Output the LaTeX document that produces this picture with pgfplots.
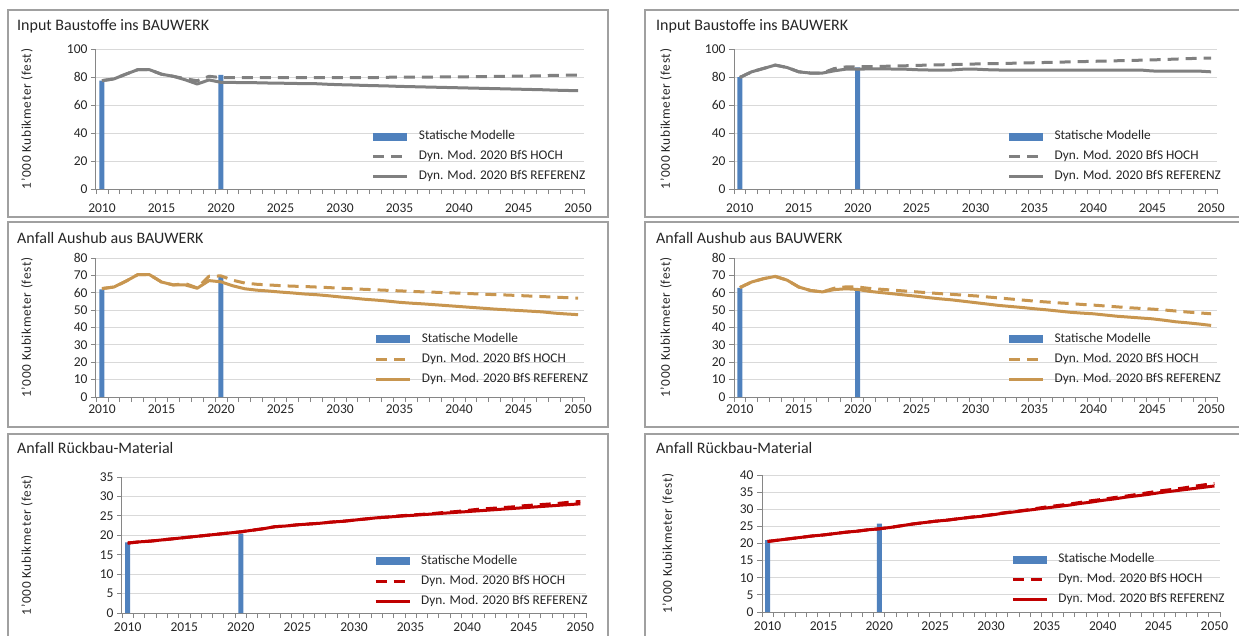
\documentclass[border=0pt]{standalone}
\usepackage{fontspec}
\setmainfont{Carlito}
\usepackage{pgfplots}
\pgfplotsset{compat=1.18}
\usepackage{pgfplotstable}

\definecolor{barblue}{HTML}{4F81BD}
\definecolor{linegray}{HTML}{808080}
\definecolor{linetan}{HTML}{C89650}
\definecolor{linered}{HTML}{C00000}
\definecolor{gridcol}{HTML}{D9D9D9}
\definecolor{axiscol}{HTML}{868686}
\definecolor{framecol}{HTML}{A0A0A0}
\definecolor{txt}{HTML}{262626}

% year  ref  hoch
\pgfplotstableread{
year ref hoch
2010 77.4 77.4
2011 78.6 78.6
2012 82.0 82.0
2013 85.2 85.2
2014 85.2 85.2
2015 82.0 82.0
2016 80.5 80.5
2017 78.0 78.8
2018 75.0 77.3
2019 77.9 80.5
2020 76.2 79.6
2021 76.1 79.6
2022 76.0 79.6
2023 75.9 79.5
2024 75.7 79.5
2025 75.6 79.5
2026 75.4 79.5
2027 75.3 79.5
2028 75.2 79.5
2029 74.8 79.5
2030 74.5 79.5
2031 74.3 79.6
2032 74.0 79.6
2033 73.8 79.6
2034 73.6 79.8
2035 73.3 80.0
2036 73.1 80.0
2037 72.9 80.0
2038 72.7 80.0
2039 72.5 80.1
2040 72.3 80.1
2041 72.1 80.2
2042 71.9 80.3
2043 71.7 80.4
2044 71.5 80.5
2045 71.3 80.6
2046 71.1 80.7
2047 70.9 80.9
2048 70.6 81.2
2049 70.4 81.3
2050 70.2 81.3
}\tabTL

\pgfplotstableread{
year ref hoch
2010 79.7 79.7
2011 83.7 83.7
2012 86.1 86.1
2013 88.5 88.5
2014 86.8 86.8
2015 83.7 83.7
2016 82.8 82.8
2017 82.8 82.8
2018 84.4 86.0
2019 85.6 87.2
2020 85.6 87.3
2021 85.8 87.4
2022 85.8 87.6
2023 85.7 87.8
2024 85.6 88.0
2025 85.2 88.3
2026 85.0 88.5
2027 85.0 88.7
2028 85.0 88.9
2029 85.6 89.1
2030 85.6 89.3
2031 85.2 89.5
2032 85.0 89.6
2033 85.0 89.8
2034 85.0 90.0
2035 85.0 90.2
2036 85.0 90.4
2037 85.0 90.6
2038 85.0 90.8
2039 85.0 91.0
2040 85.0 91.2
2041 85.0 91.4
2042 85.0 91.6
2043 85.0 91.8
2044 85.0 92.0
2045 84.3 92.2
2046 84.2 92.5
2047 84.2 92.8
2048 84.2 93.1
2049 84.2 93.4
2050 83.7 93.5
}\tabTR

\pgfplotstableread{
year ref hoch
2010 62.4 62.4
2011 63.3 63.3
2012 66.6 66.6
2013 70.4 70.4
2014 70.4 70.4
2015 66.2 66.2
2016 64.5 64.5
2017 64.5 65.3
2018 62.6 62.8
2019 67.0 69.5
2020 66.3 69.7
2021 64.0 67.2
2022 62.3 65.6
2023 61.5 64.9
2024 61.0 64.5
2025 60.4 64.1
2026 59.9 63.8
2027 59.3 63.6
2028 58.9 63.3
2029 58.3 63.0
2030 57.6 62.6
2031 57.0 62.3
2032 56.3 62.0
2033 55.8 61.7
2034 55.2 61.4
2035 54.5 61.1
2036 54.0 60.8
2037 53.6 60.5
2038 53.1 60.3
2039 52.6 60.0
2040 52.1 59.8
2041 51.6 59.5
2042 51.1 59.2
2043 50.6 58.9
2044 50.2 58.7
2045 49.8 58.4
2046 49.4 58.1
2047 49.0 57.8
2048 48.3 57.5
2049 47.8 57.2
2050 47.4 56.9
}\tabML

\pgfplotstableread{
year ref hoch
2010 63.0 63.0
2011 66.2 66.2
2012 68.1 68.1
2013 69.4 69.4
2014 67.3 67.3
2015 63.3 63.3
2016 61.3 61.3
2017 60.5 60.5
2018 61.8 62.6
2019 62.3 63.4
2020 61.9 63.3
2021 60.8 62.5
2022 60.1 62.0
2023 59.4 61.5
2024 58.7 61.0
2025 58.0 60.5
2026 57.2 60.0
2027 56.5 59.5
2028 55.9 59.1
2029 55.1 58.6
2030 54.3 58.2
2031 53.5 57.6
2032 52.7 57.0
2033 52.1 56.4
2034 51.5 55.8
2035 50.8 55.2
2036 50.2 54.7
2037 49.5 54.2
2038 48.8 53.8
2039 48.3 53.3
2040 47.9 52.9
2041 47.2 52.4
2042 46.5 51.9
2043 46.0 51.4
2044 45.5 51.0
2045 45.0 50.6
2046 44.2 50.1
2047 43.3 49.5
2048 42.7 48.9
2049 42.0 48.4
2050 41.2 47.9
}\tabMR

\pgfplotstableread{
year ref hoch
2010 18.0 18.0
2011 18.3 18.3
2012 18.5 18.5
2013 18.8 18.8
2014 19.1 19.1
2015 19.4 19.4
2016 19.7 19.7
2017 20.0 20.0
2018 20.3 20.3
2019 20.6 20.6
2020 20.9 20.9
2021 21.3 21.3
2022 21.7 21.7
2023 22.2 22.2
2024 22.4 22.4
2025 22.7 22.7
2026 22.9 22.9
2027 23.1 23.1
2028 23.4 23.4
2029 23.6 23.6
2030 23.9 23.9
2031 24.2 24.2
2032 24.5 24.5
2033 24.7 24.7
2034 24.9 25.0
2035 25.1 25.2
2036 25.3 25.4
2037 25.5 25.6
2038 25.7 25.9
2039 25.9 26.1
2040 26.1 26.4
2041 26.3 26.7
2042 26.5 26.9
2043 26.7 27.1
2044 26.9 27.3
2045 27.1 27.6
2046 27.3 27.8
2047 27.5 28.0
2048 27.7 28.2
2049 27.9 28.5
2050 28.1 28.7
}\tabBL

\pgfplotstableread{
year ref hoch
2010 20.6 20.6
2011 21.0 21.0
2012 21.4 21.4
2013 21.8 21.8
2014 22.2 22.2
2015 22.5 22.5
2016 22.9 22.9
2017 23.3 23.3
2018 23.6 23.6
2019 24.0 24.0
2020 24.3 24.3
2021 24.7 24.7
2022 25.2 25.2
2023 25.7 25.7
2024 26.1 26.1
2025 26.5 26.5
2026 26.8 26.8
2027 27.2 27.2
2028 27.6 27.6
2029 27.9 28.0
2030 28.3 28.4
2031 28.8 28.9
2032 29.2 29.3
2033 29.6 29.7
2034 30.0 30.2
2035 30.4 30.7
2036 30.8 31.1
2037 31.2 31.5
2038 31.7 32.0
2039 32.1 32.5
2040 32.6 32.9
2041 33.0 33.4
2042 33.5 33.8
2043 33.9 34.3
2044 34.3 34.8
2045 34.8 35.3
2046 35.2 35.7
2047 35.6 36.1
2048 36.0 36.6
2049 36.4 37.1
2050 36.8 37.5
}\tabBR

\pgfplotsset{
  panel/.style={
    scale only axis,
    anchor=south west,
    xmin=2009.5, xmax=2050.5,
    ymin=0,
    axis x line*=bottom,
    axis y line*=left,
    axis line style={-, draw=axiscol, line width=1pt},
    tick align=outside,
    xtick={2010,2015,...,2050},
    minor xtick={2009.5,2010.5,...,2050.5},
    major x tick style={draw=none},
    minor x tick style={draw=axiscol, line width=0.8pt},
    minor tick length=5pt,
    major tick length=5pt,
    y tick style={draw=axiscol, line width=0.8pt},
    ymajorgrids,
    major y grid style={draw=gridcol, line width=1pt},
    ticklabel style={font=\fontsize{13.5}{15}\selectfont, text=txt},
    /pgf/number format/1000 sep={},
    /pgf/number format/assume math mode=true,
    ylabel={1'000 Kubikmeter (fest)},
    ylabel style={font=\fontsize{13.3}{15}\selectfont\addfontfeatures{LetterSpace=5},
      text=txt, anchor=center},
    legend cell align=left,
    legend style={draw=none, fill=none, inner sep=0pt, anchor=west,
      row sep=8pt, column sep=10pt, text=txt,
      font=\fontsize{13.3}{15}\selectfont,
      nodes={inner sep=0pt, text height=9pt, text depth=3pt}},
    legend image code/.code={\draw[##1] (0pt,0pt) -- (34pt,0pt);},
  },
  ylabpos/.style={ylabel style={at={([xshift=-#1]axis description cs:0,0.5)}}},
  bars/.style={ybar, bar width=5pt, fill=barblue, draw=none,
    legend image code/.code={\fill[barblue] (0pt,-4pt) rectangle (34pt,4pt);}},
  hoch/.style={#1, line width=3pt, dash pattern=on 11pt off 7pt, line join=round},
  ref/.style={#1, line width=3pt, line join=round},
}

\newcommand{\legendentries}{\legend{Statische Modelle, Dyn. Mod. 2020 BfS HOCH, Dyn. Mod. 2020 BfS REFERENZ}}

\begin{document}
\begin{tikzpicture}
\useasboundingbox (0pt,0pt) rectangle (1239pt,-635pt);

% panel frames
\begin{scope}[draw=framecol, line width=1.2pt]
\draw (8pt,-10pt) rectangle (608pt,-217pt);
\draw (645pt,-10pt) rectangle (1250pt,-217pt);
\draw (8pt,-222pt) rectangle (608pt,-427pt);
\draw (645pt,-222pt) rectangle (1250pt,-427pt);
\draw (8pt,-434pt) rectangle (608pt,-650pt);
\draw (645pt,-434pt) rectangle (1250pt,-650pt);
\end{scope}

% titles
\begin{scope}[every node/.style={anchor=base west, inner sep=0pt, text=txt, font=\fontsize{16}{18}\selectfont}]
\node at (17pt,-30pt) {Input Baustoffe ins BAUWERK};
\node at (656pt,-30pt) {Input Baustoffe ins BAUWERK};
\node at (17pt,-243pt) {Anfall Aushub aus BAUWERK};
\node at (656pt,-243pt) {Anfall Aushub aus BAUWERK};
\node at (17pt,-453pt) {Anfall Rückbau-Material};
\node at (656pt,-453pt) {Anfall Rückbau-Material};
\end{scope}

% Input Baustoffe, left
\begin{axis}[panel, at={(96pt,-189pt)}, width=488pt, height=140pt,
  ymax=100, ytick={0,20,...,100},
  xticklabel style={yshift=-6pt}, ylabpos=69pt,
  legend style={at={(axis description cs:0.565,0.229)}}]
\addplot[bars] coordinates {(2010,77.5) (2020,81.5)};
\addplot[hoch=linegray] table[x=year,y=hoch] {\tabTL};
\addplot[ref=linegray] table[x=year,y=ref] {\tabTL};
\legendentries
\end{axis}

% Input Baustoffe, right
\begin{axis}[panel, at={(734pt,-189pt)}, width=483pt, height=140pt,
  ymax=100, ytick={0,20,...,100},
  xticklabel style={yshift=-6pt}, ylabpos=68pt,
  legend style={at={(axis description cs:0.566,0.229)}}]
\addplot[bars] coordinates {(2010,80) (2020,86.8)};
\addplot[hoch=linegray] table[x=year,y=hoch] {\tabTR};
\addplot[ref=linegray] table[x=year,y=ref] {\tabTR};
\legendentries
\end{axis}

% Aushub, left
\begin{axis}[panel, at={(96pt,-397pt)}, width=488pt, height=139pt,
  ymax=80, ytick={0,10,...,80},
  xticklabel style={yshift=1pt}, ylabpos=69pt,
  legend style={at={(axis description cs:0.571,0.273)}}]
\addplot[bars] coordinates {(2010,62) (2020,70)};
\addplot[hoch=linetan] table[x=year,y=hoch] {\tabML};
\addplot[ref=linetan] table[x=year,y=ref] {\tabML};
\legendentries
\end{axis}

% Aushub, right
\begin{axis}[panel, at={(734pt,-397pt)}, width=483pt, height=139pt,
  ymax=80, ytick={0,10,...,80},
  xticklabel style={yshift=1pt}, ylabpos=68pt,
  legend style={at={(axis description cs:0.566,0.273)}}]
\addplot[bars] coordinates {(2010,62.8) (2020,62.3)};
\addplot[hoch=linetan] table[x=year,y=hoch] {\tabMR};
\addplot[ref=linetan] table[x=year,y=ref] {\tabMR};
\legendentries
\end{axis}

% Rueckbau, left
\begin{axis}[panel, at={(122pt,-613pt)}, width=464pt, height=136pt,
  ymax=35, ytick={0,5,...,35},
  xticklabel style={yshift=-1pt}, ylabpos=95pt,
  legend style={at={(axis description cs:0.543,0.235)}}]
\addplot[bars] coordinates {(2010,18.2) (2020,20.4)};
\addplot[hoch=linered] table[x=year,y=hoch] {\tabBL};
\addplot[ref=linered] table[x=year,y=ref] {\tabBL};
\legendentries
\end{axis}

% Rueckbau, right
\begin{axis}[panel, at={(762pt,-612pt)}, width=458pt, height=137pt,
  ymax=40, ytick={0,5,...,40},
  xticklabel style={yshift=-1pt}, ylabpos=94pt,
  legend style={at={(axis description cs:0.544,0.234)}}]
\addplot[bars] coordinates {(2010,21) (2020,25.8)};
\addplot[hoch=linered] table[x=year,y=hoch] {\tabBR};
\addplot[ref=linered] table[x=year,y=ref] {\tabBR};
\legendentries
\end{axis}
\end{tikzpicture}
\end{document}
